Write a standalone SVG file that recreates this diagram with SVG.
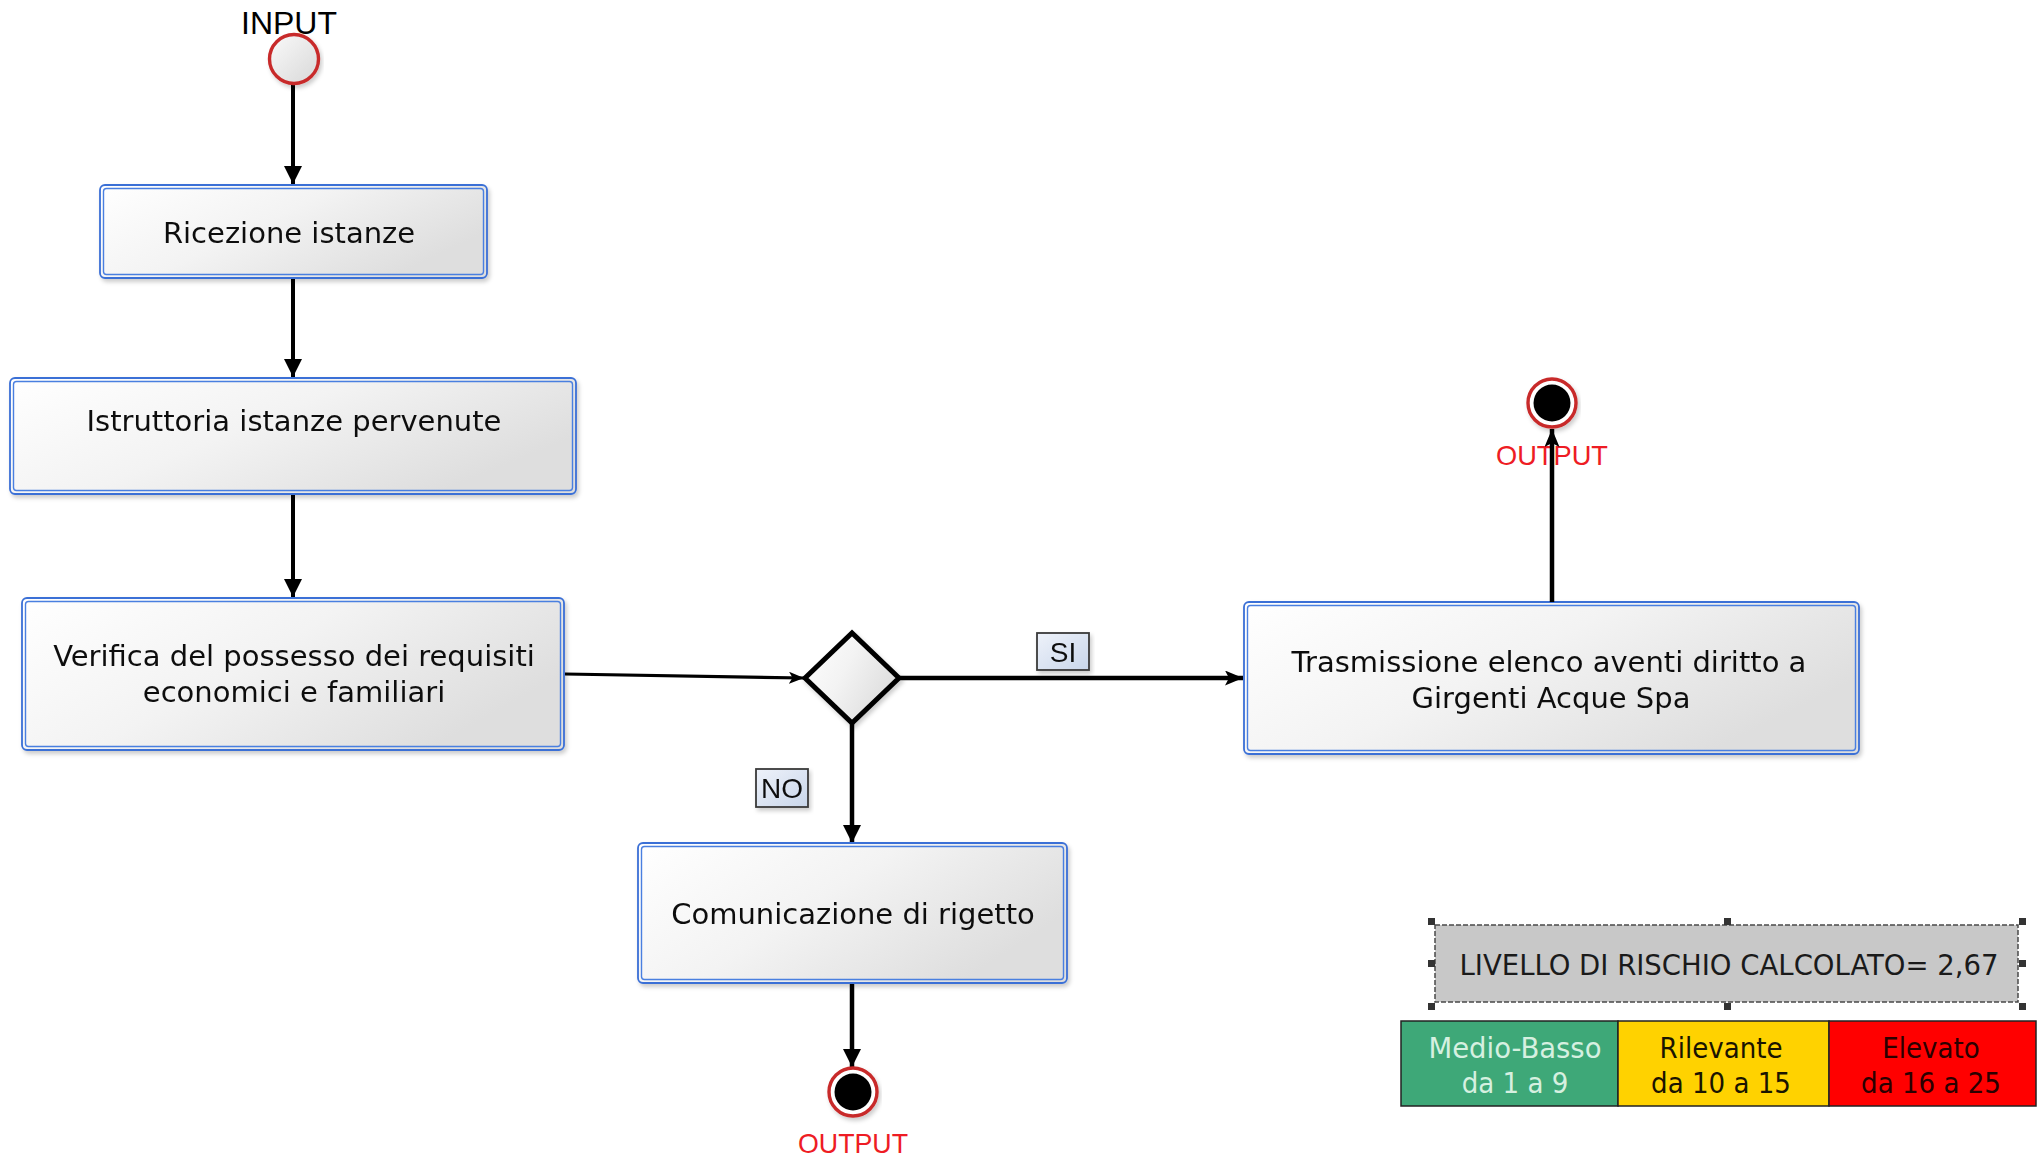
<svg xmlns="http://www.w3.org/2000/svg" width="2038" height="1157" viewBox="0 0 2038 1157">
<defs>
  <linearGradient id="boxg" x1="0" y1="0" x2="1" y2="0.5">
    <stop offset="0" stop-color="#ffffff"/>
    <stop offset="0.5" stop-color="#f3f3f3"/>
    <stop offset="1" stop-color="#dedede"/>
  </linearGradient>
  <linearGradient id="lblg" x1="0" y1="0" x2="1" y2="1">
    <stop offset="0" stop-color="#eef2fa"/>
    <stop offset="1" stop-color="#c9d6ea"/>
  </linearGradient>
  <linearGradient id="circg" x1="0" y1="0" x2="1" y2="1">
    <stop offset="0" stop-color="#fafafa"/>
    <stop offset="1" stop-color="#d8d8d8"/>
  </linearGradient>
  <filter id="sh" x="-10%" y="-10%" width="120%" height="130%">
    <feDropShadow dx="2" dy="3" stdDeviation="2" flood-color="#000" flood-opacity="0.2"/>
  </filter>
  <marker id="tri" viewBox="0 0 18 18" refX="18" refY="9" markerWidth="18" markerHeight="18" markerUnits="userSpaceOnUse" orient="auto">
    <path d="M0,0 L18,9 L0,18 z" fill="#000"/>
  </marker>
  <marker id="barb" viewBox="0 0 18 15" refX="18" refY="7.5" markerWidth="18" markerHeight="15" markerUnits="userSpaceOnUse" orient="auto">
    <path d="M0,0 L18,7.5 L0,15 L4,7.5 z" fill="#000"/>
  </marker>
  <marker id="barbs" viewBox="0 0 15 12" refX="15" refY="6" markerWidth="15" markerHeight="12" markerUnits="userSpaceOnUse" orient="auto">
    <path d="M0,0 L15,6 L0,12 L3.5,6 z" fill="#000"/>
  </marker>
</defs>
<style>
  .outer { fill: url(#boxg); stroke: #3a6fd6; stroke-width: 1.8; }
  .inner { fill: none; stroke: #4a7fe0; stroke-width: 1.4; }
  .btxt { font-family: "DejaVu Sans", "Liberation Sans", sans-serif; font-size: 29px; fill: #111; text-anchor: middle; }
  .lbl { fill: url(#lblg); stroke: #3a3a3a; stroke-width: 1.8; }
  .ltxt { font-family: "Liberation Sans", Arial, sans-serif; font-size: 28px; fill: #111; text-anchor: middle; }
  .io { font-family: "Liberation Sans", Arial, sans-serif; text-anchor: middle; }
  .ring { stroke: #c82a2a; stroke-width: 3.4; }
  .conn { stroke: #000; fill: none; }
  .handle { fill: #333; }
  .ctxt { font-family: "DejaVu Sans Condensed", "DejaVu Sans", sans-serif; font-size: 29px; text-anchor: middle; }
</style>

<g id="connectors">
  <line class="conn" x1="293" y1="85" x2="293" y2="184" stroke-width="4" marker-end="url(#tri)"/>
  <line class="conn" x1="293" y1="279" x2="293" y2="377" stroke-width="4" marker-end="url(#tri)"/>
  <line class="conn" x1="293" y1="495" x2="293" y2="597" stroke-width="4" marker-end="url(#tri)"/>
  <line class="conn" x1="565" y1="674" x2="804" y2="678" stroke-width="3.2" marker-end="url(#barbs)"/>
  <line class="conn" x1="899" y1="678" x2="1243" y2="678" stroke-width="4.5" marker-end="url(#barb)"/>
  <line class="conn" x1="852" y1="723" x2="852" y2="843" stroke-width="4.5" marker-end="url(#tri)"/>
  <line class="conn" x1="852" y1="984" x2="852" y2="1067" stroke-width="4.5" marker-end="url(#tri)"/>
</g>

<g id="input">
  <text class="io" x="289" y="34" font-size="32" fill="#000">INPUT</text>
  <circle cx="294" cy="59" r="24.5" fill="url(#circg)" class="ring" filter="url(#sh)"/>
</g>

<g id="n-ricezione" filter="url(#sh)">
  <rect class="outer" x="100" y="185" width="387" height="93" rx="5"/>
  <rect class="inner" x="103.5" y="188.5" width="380" height="86" rx="3"/>
  <text class="btxt" x="289" y="243">Ricezione istanze</text>
</g>

<g id="n-istruttoria" filter="url(#sh)">
  <rect class="outer" x="10" y="378" width="566" height="116" rx="5"/>
  <rect class="inner" x="13.5" y="381.5" width="559" height="109" rx="3"/>
  <text class="btxt" x="294" y="431">Istruttoria istanze pervenute</text>
</g>

<g id="n-verifica" filter="url(#sh)">
  <rect class="outer" x="22" y="598" width="542" height="152" rx="5"/>
  <rect class="inner" x="25.5" y="601.5" width="535" height="145" rx="3"/>
  <text class="btxt" x="294" y="666">Verifica del possesso dei requisiti</text>
  <text class="btxt" x="294" y="702">economici e familiari</text>
</g>

<g id="n-decisione">
  <polygon points="805,678 852,633 899,678 852,723" fill="url(#boxg)" stroke="#000" stroke-width="5" stroke-linejoin="miter" filter="url(#sh)"/>
</g>

<g id="lbl-si" filter="url(#sh)">
  <rect class="lbl" x="1037" y="633" width="52" height="37"/>
  <text class="ltxt" x="1063" y="662">SI</text>
</g>

<g id="lbl-no" filter="url(#sh)">
  <rect class="lbl" x="756" y="769" width="52" height="38"/>
  <text class="ltxt" x="782" y="798">NO</text>
</g>

<g id="n-trasmissione" filter="url(#sh)">
  <rect class="outer" x="1244" y="602" width="615" height="152" rx="5"/>
  <rect class="inner" x="1247.5" y="605.5" width="608" height="145" rx="3"/>
  <text class="btxt" x="1549" y="672">Trasmissione elenco aventi diritto a</text>
  <text class="btxt" x="1551" y="708">Girgenti Acque Spa</text>
</g>

<g id="n-comunicazione" filter="url(#sh)">
  <rect class="outer" x="638" y="843" width="429" height="140" rx="5"/>
  <rect class="inner" x="641.5" y="846.5" width="422" height="133" rx="3"/>
  <text class="btxt" x="853" y="924">Comunicazione di rigetto</text>
</g>

<g id="output-top">
  <circle cx="1552" cy="403" r="24" fill="#fff" class="ring" filter="url(#sh)"/>
  <circle cx="1552" cy="403" r="18.5" fill="#000"/>
  <text class="io" x="1552" y="465" font-size="28" fill="#ee1c24" textLength="112" lengthAdjust="spacingAndGlyphs">OUTPUT</text>
  <line class="conn" x1="1552" y1="602" x2="1552" y2="429" stroke-width="4.5" marker-end="url(#barb)"/>
</g>

<g id="output-bottom">
  <circle cx="853" cy="1092" r="24" fill="#fff" class="ring" filter="url(#sh)"/>
  <circle cx="853" cy="1092" r="18.5" fill="#000"/>
  <text class="io" x="853" y="1153" font-size="28" fill="#ee1c24" textLength="110" lengthAdjust="spacingAndGlyphs">OUTPUT</text>
</g>

<g id="rischio">
  <rect x="1435" y="925" width="583" height="77" fill="#c8c8c8" stroke="#4a4a4a" stroke-width="1.5" stroke-dasharray="5,2"/>
  <text class="ctxt" x="1729" y="975" fill="#1a1a1a" textLength="539" lengthAdjust="spacingAndGlyphs">LIVELLO DI RISCHIO CALCOLATO= 2,67</text>
  <rect class="handle" x="1428" y="918" width="7" height="7"/>
  <rect class="handle" x="1724" y="918" width="7" height="7"/>
  <rect class="handle" x="2019" y="918" width="7" height="7"/>
  <rect class="handle" x="1428" y="960" width="7" height="7"/>
  <rect class="handle" x="2019" y="960" width="7" height="7"/>
  <rect class="handle" x="1428" y="1003" width="7" height="7"/>
  <rect class="handle" x="1724" y="1003" width="7" height="7"/>
  <rect class="handle" x="2019" y="1003" width="7" height="7"/>
</g>

<g id="scala">
  <rect x="1401" y="1021" width="217" height="85" fill="#3ea878" stroke="#222" stroke-width="1.5"/>
  <rect x="1618" y="1021" width="211" height="85" fill="#ffd200" stroke="#222" stroke-width="1.5"/>
  <rect x="1829" y="1021" width="207" height="85" fill="#ff0000" stroke="#222" stroke-width="1.5"/>
  <text class="ctxt" x="1515" y="1058" fill="#d6f0e0" textLength="173" lengthAdjust="spacingAndGlyphs">Medio-Basso</text>
  <text class="ctxt" x="1515" y="1093" fill="#d6f0e0">da 1 a 9</text>
  <text class="ctxt" x="1721" y="1058" fill="#1a1400">Rilevante</text>
  <text class="ctxt" x="1721" y="1093" fill="#1a1400">da 10 a 15</text>
  <text class="ctxt" x="1931" y="1058" fill="#2a0000">Elevato</text>
  <text class="ctxt" x="1931" y="1093" fill="#2a0000">da 16 a 25</text>
</g>
</svg>
